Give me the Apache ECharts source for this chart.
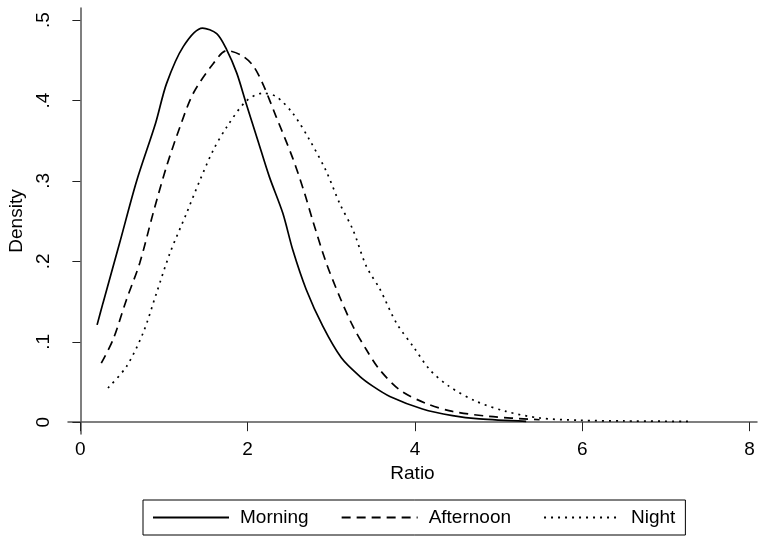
<!DOCTYPE html>
<html>
<head>
<meta charset="utf-8">
<script src="https://cdn.jsdelivr.net/npm/echarts@6/dist/echarts.min.js"></script>
<style>
  html, body { margin: 0; padding: 0; background: #fff; }
  #main { width: 758px; height: 538px; }
</style>
</head>
<body>
<div id="main"></div>
<script>
// kernel density curves
var morningX = [0.20, 0.27, 0.47, 0.67, 0.90, 1.03, 1.23, 1.46, 1.63, 1.75, 1.87, 1.98, 2.12, 2.26, 2.42, 2.54, 2.70, 2.90, 3.12, 3.34, 3.50, 3.70, 4.09, 4.45, 4.77, 5.33];
var morningY = [0.121, 0.148, 0.223, 0.299, 0.372, 0.421, 0.467, 0.490, 0.483, 0.463, 0.434, 0.397, 0.351, 0.305, 0.260, 0.214, 0.165, 0.119, 0.080, 0.057, 0.0445, 0.032, 0.0164, 0.0081, 0.004, 0.001];

var afternoonX = [0.25, 0.39, 0.55, 0.71, 0.87, 1.03, 1.19, 1.35, 1.59, 1.75, 1.92, 2.06, 2.18, 2.34, 2.54, 2.68, 2.78, 2.94, 3.10, 3.26, 3.42, 3.58, 3.82, 4.14, 4.45, 4.89, 5.49];
var afternoonY = [0.0735, 0.1025, 0.152, 0.198, 0.260, 0.318, 0.367, 0.409, 0.446, 0.462, 0.4565, 0.444, 0.421, 0.380, 0.328, 0.285, 0.250, 0.198, 0.156, 0.119, 0.090, 0.065, 0.040, 0.023, 0.0134, 0.0072, 0.003];

var nightX = [0.33, 0.55, 0.75, 0.91, 1.07, 1.27, 1.43, 1.59, 1.75, 1.98, 2.18, 2.34, 2.54, 2.74, 2.94, 3.10, 3.26, 3.42, 3.58, 3.78, 3.98, 4.18, 4.41, 4.73, 5.09, 5.49, 5.97, 6.50, 7.32];
var nightY = [0.0425, 0.069, 0.111, 0.1605, 0.210, 0.260, 0.301, 0.3385, 0.367, 0.399, 0.409, 0.405, 0.384, 0.351, 0.312, 0.272, 0.239, 0.1935, 0.1657, 0.123, 0.094, 0.065, 0.0445, 0.026, 0.0134, 0.0052, 0.0023, 0.0015, 0.001];

var xTicks = [0, 2, 4, 6, 8];
var yTicks = [0, 0.1, 0.2, 0.3, 0.4, 0.5];
var yTickLabels = ['0', '.1', '.2', '.3', '.4', '.5'];

function pairs(xs, ys) {
    var out = [];
    for (var i = 0; i < xs.length; i++) out.push([xs[i], ys[i]]);
    return out;
}

var myChart = echarts.init(document.getElementById('main'));
var font = 'Liberation Sans, Arial, sans-serif';

var option = {
    animation: false,
    backgroundColor: '#fff',
    grid: { left: 68, right: 1, top: 8, bottom: 104, outerBoundsMode: 'none', containLabel: false },
    legend: {
        left: 143, top: 500,
        width: 545,
        padding: [8, 10, 8, 9],
        borderColor: '#000', borderWidth: 1,
        itemWidth: 76, itemHeight: 16, itemGap: 32,
        itemStyle: { color: 'rgba(0,0,0,0)', borderWidth: 0, opacity: 0 },
        textStyle: { fontFamily: font, fontSize: 19, color: '#000', padding: [0, 0, 0, 6] },
        data: ['Morning', 'Afternoon', 'Night']
    },
    xAxis: {
        type: 'value',
        min: -0.148, max: 8.09,
        name: 'Ratio', nameLocation: 'middle', nameGap: 11,
        nameTextStyle: { fontFamily: font, fontSize: 19, color: '#000', verticalAlign: 'top', lineHeight: 19 },
        axisLine: { lineStyle: { color: '#555', width: 1.5 } },
        axisTick: { customValues: xTicks, length: 9, lineStyle: { color: '#222' } },
        axisLabel: { customValues: xTicks, margin: 6, fontFamily: font, fontSize: 19, color: '#000' },
        splitLine: { show: false }
    },
    yAxis: {
        type: 'value',
        min: -0.0147, max: 0.515,
        name: 'Density', nameLocation: 'middle', nameGap: 30,
        nameTextStyle: { fontFamily: font, fontSize: 19, color: '#000' },
        axisLine: { show: true, lineStyle: { color: '#555', width: 1.5 } },
        axisTick: { show: true, customValues: yTicks, length: 8, lineStyle: { color: '#222' } },
        axisLabel: {
            customValues: yTicks, rotate: 90, margin: 15,
            fontFamily: font, fontSize: 19, color: '#000',
            formatter: function (v) {
                var i = yTicks.indexOf(+v.toFixed(1));
                return i >= 0 ? yTickLabels[i] : '';
            }
        },
        splitLine: { show: false }
    },
    series: [{
        name: 'Morning', type: 'line', showSymbol: false, symbol: 'none', smooth: 0.3,
        lineStyle: { color: '#000', width: 1.7, type: 'solid' },
        itemStyle: { color: '#000' },
        data: pairs(morningX, morningY)
    }, {
        name: 'Afternoon', type: 'line', showSymbol: false, symbol: 'none', smooth: 0.3,
        lineStyle: { color: '#000', width: 1.7, type: [9, 6] },
        itemStyle: { color: '#000' },
        data: pairs(afternoonX, afternoonY)
    }, {
        name: 'Night', type: 'line', showSymbol: false, symbol: 'none', smooth: 0.3,
        lineStyle: { color: '#000', width: 1.7, type: [2, 5] },
        itemStyle: { color: '#000' },
        data: pairs(nightX, nightY)
    }]
};
myChart.setOption(option);
</script>
</body>
</html>
